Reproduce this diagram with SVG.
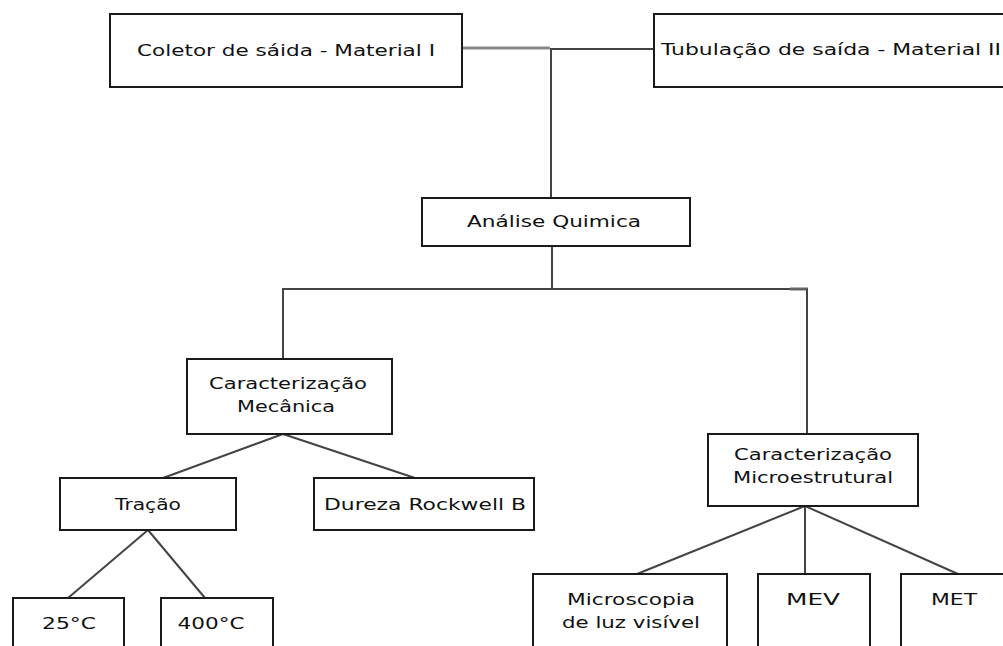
<svg xmlns="http://www.w3.org/2000/svg" width="1003" height="646" viewBox="0 0 1003 646">
<style>
.box{fill:#fff;stroke:#1a1a1a;stroke-width:2}
.t{font-family:"DejaVu Sans","Liberation Sans",Arial,sans-serif;font-size:16.5px;fill:#111;text-anchor:middle}
.c{stroke:#444;stroke-width:2;fill:none}
</style>
<rect width="1003" height="646" fill="#fff"/>
<g id="connectors">
<line x1="462" y1="48" x2="550" y2="48" stroke="#888" stroke-width="3"/>
<line class="c" x1="550" y1="49" x2="654" y2="49"/>
<line class="c" x1="551" y1="48" x2="551" y2="198"/>
<line class="c" x1="552" y1="246" x2="552" y2="289"/>
<line class="c" x1="282" y1="289" x2="808" y2="289"/>
<line x1="790" y1="289" x2="808" y2="289" stroke="#666" stroke-width="3"/>
<line class="c" x1="283" y1="289" x2="283" y2="360"/>
<line class="c" x1="807" y1="289" x2="807" y2="434"/>
<line class="c" x1="283" y1="434" x2="163" y2="478"/>
<line class="c" x1="283" y1="434" x2="415" y2="478"/>
<line class="c" x1="148" y1="530" x2="68" y2="598"/>
<line class="c" x1="148" y1="530" x2="205" y2="598"/>
<line class="c" x1="805" y1="506" x2="637" y2="574"/>
<line class="c" x1="805" y1="506" x2="805" y2="574"/>
<line class="c" x1="805" y1="506" x2="958" y2="574"/>
</g>
<g id="coletor"><rect class="box" x="110" y="14" width="352" height="73"/><text class="t" x="286" y="56" textLength="298" lengthAdjust="spacingAndGlyphs">Coletor de sáida - Material I</text></g>
<g id="tubulacao"><rect class="box" x="654" y="14" width="360" height="73"/><text class="t" x="661" y="55" style="text-anchor:start" textLength="340" lengthAdjust="spacingAndGlyphs">Tubulação de saída - Material II</text></g>
<g id="analise"><rect class="box" x="422" y="198" width="268" height="48"/><text class="t" x="554" y="227" textLength="174" lengthAdjust="spacingAndGlyphs">Análise Quimica</text></g>
<g id="mecanica"><rect class="box" x="187" y="359" width="205" height="75"/><text class="t" x="288" y="389" textLength="158" lengthAdjust="spacingAndGlyphs">Caracterização</text><text class="t" x="286" y="412" textLength="98" lengthAdjust="spacingAndGlyphs">Mecânica</text></g>
<g id="tracao"><rect class="box" x="60" y="478" width="176" height="52"/><text class="t" x="148" y="510" textLength="66" lengthAdjust="spacingAndGlyphs">Tração</text></g>
<g id="dureza"><rect class="box" x="314" y="478" width="220" height="52"/><text class="t" x="425" y="510" textLength="202" lengthAdjust="spacingAndGlyphs">Dureza Rockwell B</text></g>
<g id="t25"><rect class="box" x="13" y="598" width="111" height="60"/><text class="t" x="69" y="629" textLength="54" lengthAdjust="spacingAndGlyphs">25°C</text></g>
<g id="t400"><rect class="box" x="161" y="598" width="112" height="60"/><text class="t" x="211" y="629" textLength="67" lengthAdjust="spacingAndGlyphs">400°C</text></g>
<g id="microestrutural"><rect class="box" x="708" y="434" width="210" height="72"/><text class="t" x="813" y="460" textLength="158" lengthAdjust="spacingAndGlyphs">Caracterização</text><text class="t" x="813" y="483" textLength="160" lengthAdjust="spacingAndGlyphs">Microestrutural</text></g>
<g id="microscopia"><rect class="box" x="533" y="574" width="194" height="80"/><text class="t" x="631" y="605" textLength="128" lengthAdjust="spacingAndGlyphs">Microscopia</text><text class="t" x="631" y="628" textLength="138" lengthAdjust="spacingAndGlyphs">de luz visível</text></g>
<g id="mev"><rect class="box" x="758" y="574" width="112" height="80"/><text class="t" x="813" y="605" textLength="54" lengthAdjust="spacingAndGlyphs">MEV</text></g>
<g id="met"><rect class="box" x="901" y="574" width="120" height="80"/><text class="t" x="954" y="605" textLength="46" lengthAdjust="spacingAndGlyphs">MET</text></g>
</svg>
